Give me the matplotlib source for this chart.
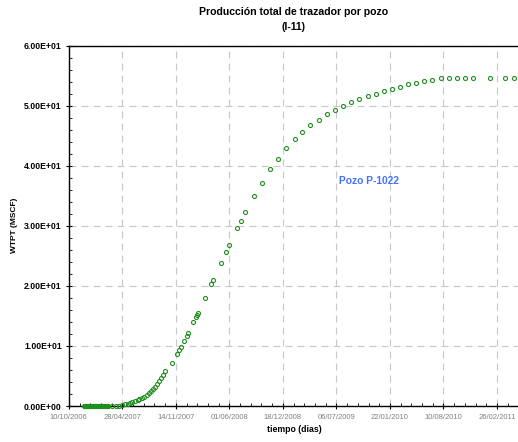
import matplotlib
matplotlib.use('Agg')
import matplotlib.pyplot as plt
from matplotlib.ticker import FixedLocator, MultipleLocator
from datetime import datetime

plt.rcParams['font.family'] = ['Liberation Sans', 'DejaVu Sans']

# Datos: dias desde 10/10/2006 y WTPT (MSCF)
# tramo inicial en cero (puntos muy juntos)
dias_cero = [57, 59, 61, 63, 65, 67, 69, 71, 73, 75, 77, 79, 81, 83, 85, 87,
             89, 91, 93, 95, 97, 99, 101, 103, 105, 107, 109, 111, 113, 115,
             117, 119, 121, 123, 125, 127, 129, 131, 133, 135, 137, 139, 141,
             143, 145]
wtpt_cero = [0, 0, 0, 0, 0, 0, 0, 0, 0, 0, 0, 0, 0, 0, 0, 0,
             0, 0, 0, 0, 0, 0, 0, 0, 0, 0, 0, 0, 0, 0,
             0, 0, 0, 0, 0, 0, 0, 0, 0, 0, 0, 0, 0,
             0, 0]
# resto de la curva
dias = [148, 160, 175, 188, 200, 210, 220,
        229, 237, 247, 258, 264, 272, 281, 291, 300, 307, 315, 322, 330, 337,
        345, 353, 361, 385, 403, 412, 419, 432, 443, 447, 465, 474, 478, 482,
        509, 530, 538, 568, 587, 599, 629, 642, 660, 691, 721, 752, 782, 813,
        844, 871, 903, 934, 964, 995, 1025, 1056, 1086, 1117, 1147, 1178,
        1209, 1238, 1268, 1298, 1329, 1358, 1390, 1420, 1451, 1482, 1512,
        1573, 1631, 1663]
wtpt = [0, 0, 0, 0.08, 0.17, 0.25, 0.33,
        0.55, 0.66, 0.83, 1.0, 1.16, 1.33, 1.5, 1.83, 2.16, 2.49, 2.83, 3.16, 3.66, 4.15,
        4.65, 5.15, 5.8, 7.15, 8.65, 9.31, 9.75, 10.8, 11.68, 12.08, 13.96, 14.84, 15.17, 15.5,
        17.95, 20.23, 20.94, 23.88, 25.71, 26.76, 29.58, 30.86, 32.36, 34.95, 37.18, 39.39, 41.17, 42.88,
        44.37, 45.54, 46.7, 47.65, 48.53, 49.24, 49.91, 50.52, 51.02, 51.52, 51.97, 52.35,
        52.8, 53.13, 53.52, 53.73, 54.06, 54.3, 54.56, 54.63, 54.63, 54.63, 54.63,
        54.63, 54.63, 54.63]

fecha_inicio = '10/10/2006'
etiquetas_x = ['10/10/2006', '28/04/2007', '14/11/2007', '01/06/2008', '18/12/2008',
               '06/07/2009', '22/01/2010', '10/08/2010', '26/02/2011']
valores_y = [0, 10, 20, 30, 40, 50, 60]
etiquetas_y = ['0.00E+00', '1.00E+01', '2.00E+01', '3.00E+01', '4.00E+01',
               '5.00E+01', '6.00E+01']

t0 = datetime.strptime(fecha_inicio, '%d/%m/%Y')
pos_x = [(datetime.strptime(e, '%d/%m/%Y') - t0).days for e in etiquetas_x]

fig = plt.figure(figsize=(5.18, 4.42), dpi=100)
ax = fig.add_axes([68.8 / 518, 36 / 442, 1700 * 0.2676 / 518, 360.5 / 442])

estilo = dict(linestyle='none', marker='o', markersize=2.9,
              markerfacecolor='none', markeredgecolor='#1f8f1f',
              markeredgewidth=0.8, clip_on=False, zorder=3)
ax.plot(dias_cero + dias, wtpt_cero + wtpt, **estilo)

ax.set_xlim(0, 1700)
ax.set_ylim(0, 60)

ax.xaxis.set_major_locator(FixedLocator(pos_x))
ax.set_xticklabels(etiquetas_x)
ax.xaxis.set_minor_locator(MultipleLocator(40))
ax.yaxis.set_major_locator(FixedLocator(valores_y))
ax.set_yticklabels(etiquetas_y)
ax.yaxis.set_minor_locator(MultipleLocator(2))

ax.tick_params(axis='x', which='major', direction='inout', length=4, width=0.8,
               pad=4, labelsize=5.5, labelcolor='#808080')
ax.tick_params(axis='y', which='major', direction='inout', length=4, width=0.8,
               pad=3, labelsize=6.2)
ax.tick_params(which='minor', direction='in', length=2.5, width=0.6)
for lab in ax.get_yticklabels():
    lab.set_fontweight('bold')

ax.grid(True, which='major', color='#c8c8c8', linestyle=(0, (6.3, 4.5)), linewidth=0.8)
ax.set_axisbelow(True)
ax.spines['right'].set_visible(False)
for s in ['left', 'bottom', 'top']:
    ax.spines[s].set_linewidth(1.0)

ax.set_xlabel('tiempo (dias)', fontsize=6.3, fontweight='bold', labelpad=3)
ax.xaxis.set_label_coords((294 - 68.8) / (1700 * 0.2676), -0.052)
ax.set_ylabel('WTPT (MSCF)', fontsize=6.0, fontweight='bold')
ax.yaxis.set_label_coords(-(68.8 - 18) / (1700 * 0.2676), 0.5)

# texto del pozo (posicion en fraccion de la figura)
fig.text(369 / 518, 1 - 180.7 / 442, 'Pozo P-1022', fontsize=7.4,
         fontweight='bold', color='#4472ff', ha='center', va='center')

fig.text(294 / 518, 1 - 12 / 442, 'Producción total de trazador por pozo',
         ha='center', va='center', fontsize=7.6, fontweight='bold')
fig.text(294 / 518, 1 - 27 / 442, '(I-11)', ha='center', va='center',
         fontsize=7.6, fontweight='bold')

fig.savefig('out.png', dpi=100)
